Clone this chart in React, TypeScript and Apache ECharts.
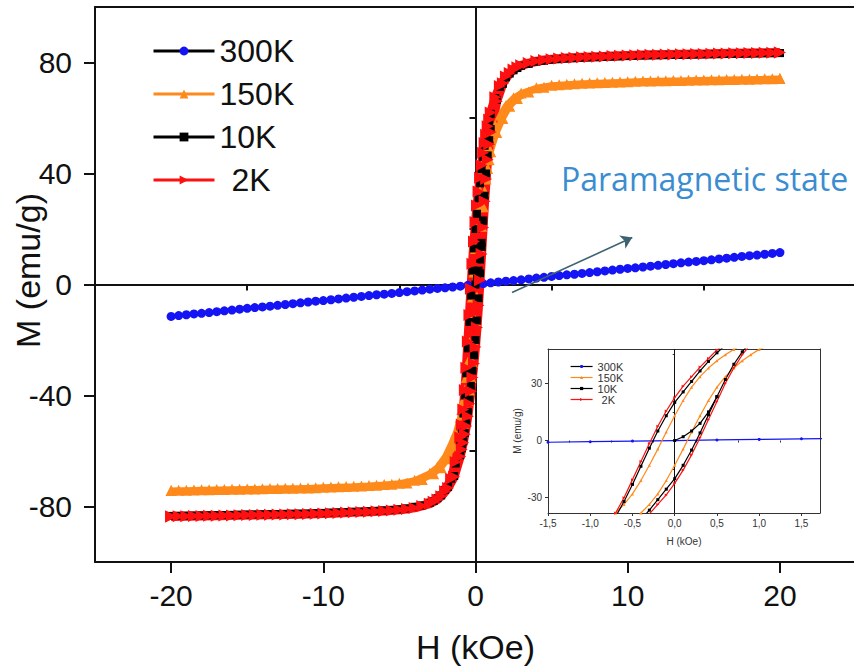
import React, { useEffect, useRef } from 'react';
import * as echarts from 'echarts';

// Field grids (kOe)
const H_DOWN = [20, 19, 18, 17, 16, 15, 14, 13, 12, 11, 10, 9, 8, 7, 6, 5, 4, 3, 2.5, 2, 1.6, 1.3,
  1, 0.9, 0.8, 0.7, 0.6, 0.5, 0.4, 0.3, 0.2, 0.1, 0, -0.1, -0.2, -0.3, -0.4, -0.5, -0.6, -0.7, -0.8, -0.9, -1,
  -1.3, -1.6, -2, -2.5, -3, -4, -5, -6, -7, -8, -9, -10, -11, -12, -13, -14, -15, -16, -17, -18, -19, -20];
const H_UP = [-20, -19.5, -18.5, -17.5, -16.5, -15.5, -14.5, -13.5, -12.5, -11.5, -10.5, -9.5, -8.5, -7.5, -6.5, -5.5,
  -4.5, -3.5, -2.75, -2.25, -1.8, -1.4,
  -1, -0.9, -0.8, -0.7, -0.6, -0.5, -0.4, -0.3, -0.2, -0.1, 0, 0.1, 0.2, 0.3, 0.4, 0.5, 0.6, 0.7, 0.8, 0.9, 1,
  1.4, 1.8, 2.25, 2.75, 3.5, 4.5,
  5.5, 6.5, 7.5, 8.5, 9.5, 10.5, 11.5, 12.5, 13.5, 14.5, 15.5, 16.5, 17.5, 18.5, 19.5, 20];

// 2K loop (emu/g)
const M2K_DOWN = [83.6, 83.5, 83.4, 83.3, 83.2, 83.1, 83.0, 82.9, 82.8, 82.7, 82.5, 82.3, 82.1, 81.9, 81.6, 81.2,
  80.5, 79.0, 77.5, 75.0, 71.5, 67.5,
  62, 59.5, 57, 54, 51, 47.5, 43, 38.5, 33.5, 28.5, 22.5, 15.5, 7.5, -1.5, -11, -20.5, -30, -38, -45, -50.5, -55,
  -64, -70, -74.5, -77.5, -79, -80.5,
  -81.2, -81.6, -81.9, -82.1, -82.3, -82.5, -82.7, -82.8, -82.9, -83.0, -83.1, -83.2, -83.3, -83.4, -83.5, -83.6];
const M2K_UP = [-83.6,
  -83.55, -83.45, -83.35, -83.25, -83.15, -83.05, -82.95, -82.85, -82.75, -82.6, -82.4, -82.2, -82.0, -81.75, -81.4,
  -80.9, -79.8, -78.3, -76.3, -73.3, -69.3,
  -62, -59.5, -57, -54, -51, -47.5, -43, -38.5, -33.5, -28.5, -22.5, -15.5, -7.5, 1.5, 11, 20.5, 30, 38, 45, 50.5, 55,
  66, 72.5, 76.2, 78.3, 79.8, 80.9,
  81.4, 81.75, 82.0, 82.2, 82.4, 82.6, 82.75, 82.85, 82.95, 83.05, 83.15, 83.25, 83.35, 83.45, 83.55,
  83.6];

// 10K loop
const M10K_DOWN = [83.4, 83.3, 83.2, 83.1, 83.0, 82.9, 82.8, 82.7, 82.6, 82.5, 82.3, 82.1, 81.9, 81.7, 81.4, 81.0,
  80.3, 78.8, 77.2, 74.7, 71.2, 67.2,
  61.5, 59, 56.5, 53.5, 50, 46, 41.5, 36.5, 31, 25.5, 20, 13, 5, -4, -13.5, -23, -32, -40, -46.5, -52, -56,
  -64.5, -70, -74, -77, -78.6, -80.1,
  -81.0, -81.4, -81.7, -81.9, -82.1, -82.3, -82.5, -82.6, -82.7, -82.8, -82.9, -83.0, -83.1, -83.2, -83.3, -83.4];
const M10K_UP = [-83.4,
  -83.35, -83.25, -83.15, -83.05, -82.95, -82.85, -82.75, -82.65, -82.55, -82.4, -82.2, -82.0, -81.8, -81.55, -81.2,
  -80.7, -79.6, -78.0, -76.0, -73.0, -69.0,
  -61.5, -59, -56.5, -53.5, -50, -46, -41.5, -36.5, -31, -25.5, -20, -13, -5, 4, 13.5, 23, 32, 40, 46.5, 52, 56,
  66.5, 72.3, 76, 78, 79.5, 80.6,
  81.2, 81.55, 81.8, 82.0, 82.2, 82.4, 82.55, 82.65, 82.75, 82.85, 82.95, 83.05, 83.15, 83.25, 83.35,
  83.4];
const H_VIRGIN = [0, 0.1, 0.2, 0.3, 0.4, 0.5];
const M10K_VIRGIN = [0, 2, 5, 9, 15, 23];

// 150K loop
const M150K_DOWN = [74.2, 74.1, 74.0, 73.9, 73.8, 73.7, 73.6, 73.5, 73.4, 73.3, 73.1, 72.9, 72.7, 72.5, 72.2, 71.8,
  70.9, 69.0, 67.3, 64.5, 61.0, 57.4,
  53.5, 51.8, 50, 47.8, 45, 41.8, 38, 33.5, 28, 21, 13, 4.5, -4.5, -13, -21, -28, -33.5, -38, -41.8, -45, -47.8,
  -53.5, -57.4, -62, -65.8, -68, -70.5,
  -71.6, -72.1, -72.45, -72.7, -72.9, -73.1, -73.3, -73.4, -73.5, -73.6, -73.7, -73.8, -73.9, -74.0, -74.1, -74.2];
const M150K_UP = [-74.2,
  -74.15, -74.05, -73.95, -73.85, -73.75, -73.65, -73.55, -73.45, -73.35, -73.2, -73.0, -72.8, -72.6, -72.35, -72.0,
  -71.5, -70.3, -68.2, -66.0, -62.8, -58.6,
  -53.5, -51.8, -50, -47.8, -45, -41.8, -38, -33.5, -28, -21, -13, -4.5, 4.5, 13, 21, 28, 33.5, 38, 41.8, 45, 47.8,
  54.8, 59.8, 64.2, 67.0, 69.4, 71.1,
  72.0, 72.35, 72.6, 72.8, 73.0, 73.2, 73.35, 73.45, 73.55, 73.65, 73.75, 73.85, 73.95, 74.05, 74.15,
  74.2];

// 300K (paramagnetic, linear)
const H_300K = [-20, -19.5, -19, -18.5, -18, -17.5, -17, -16.5, -16, -15.5, -15, -14.5, -14, -13.5, -13, -12.5,
  -12, -11.5, -11, -10.5, -10, -9.5, -9, -8.5, -8, -7.5, -7, -6.5, -6, -5.5, -5, -4.5, -4, -3.5, -3, -2.5, -2,
  -1.5, -1, -0.5, 0, 0.5, 1, 1.5, 2, 2.5, 3, 3.5, 4, 4.5, 5, 5.5, 6, 6.5, 7, 7.5, 8, 8.5, 9, 9.5, 10, 10.5, 11,
  11.5, 12, 12.5, 13, 13.5, 14, 14.5, 15, 15.5, 16, 16.5, 17, 17.5, 18, 18.5, 19, 19.5, 20];
const M_300K = [-11.5, -11.2, -10.9, -10.6, -10.4, -10.1, -9.8, -9.5, -9.2, -8.9, -8.6, -8.3, -8.1, -7.8, -7.5, -7.2,
  -6.9, -6.6, -6.3, -6.0, -5.8, -5.5, -5.2, -4.9, -4.6, -4.3, -4.0, -3.7, -3.5, -3.2, -2.9, -2.6, -2.3, -2.0, -1.7,
  -1.4, -1.2, -0.9, -0.6, -0.3, 0, 0.3, 0.6, 0.9, 1.2, 1.4, 1.7, 2.0, 2.3, 2.6, 2.9, 3.2, 3.5, 3.7, 4.0, 4.3, 4.6,
  4.9, 5.2, 5.5, 5.8, 6.0, 6.3, 6.6, 6.9, 7.2, 7.5, 7.8, 8.1, 8.3, 8.6, 8.9, 9.2, 9.5, 9.8, 10.1, 10.4, 10.6, 10.9,
  11.2, 11.5];

const SERIES_NAMES = ['300K', '150K', '10K', '2K'];
const MAIN_X_TICKS = [-20, -10, 0, 10, 20];
const MAIN_X_MINOR = [-25, -15, -5, 5, 15, 25];
const MAIN_Y_TICKS = [-80, -40, 0, 40, 80];
const MAIN_Y_MINOR = [-100, -60, -20, 20, 60, 100];
const INSET_X_TICKS = [-1.5, -1, -0.5, 0, 0.5, 1, 1.5];
const INSET_X_MINOR = [-1.25, -0.75, -0.25, 0.25, 0.75, 1.25];
const INSET_Y_TICKS = [-30, 0, 30];
const INSET_Y_MINOR = [-15, 15, 45];
const ARROW_FROM = [2.4, -2.9];
const ARROW_TO = [10.3, 16.9];

const pairs = (xs: number[], ys: number[]) => xs.map((x, i) => [x, ys[i]]);
const loop = (down: number[], up: number[]) => [...pairs(H_DOWN, down), ...pairs(H_UP, up)];

const FONT = '"Liberation Sans", Arial, sans-serif';
const INK = '#111';
const BLUE = '#1414f5';
const ORANGE = '#ff8a1c';
const RED = '#ff1010';

export default function App() {
  const ref = useRef<HTMLDivElement>(null);
  useEffect(() => {
    document.body.style.margin = '0';
    const chart = echarts.init(ref.current!, undefined, { renderer: 'svg' });
    const mainLine = { show: true, onZero: false, lineStyle: { color: INK, width: 2 } };
    const insetLine = { show: true, onZero: false, lineStyle: { color: '#333', width: 1 } };
    const lineOnly = (gridIndex: number, position: string, min: number, max: number, lineStyle: any) => ({
      gridIndex, position, type: 'value', min, max,
      axisLine: lineStyle, axisTick: { show: false }, axisLabel: { show: false }, splitLine: { show: false },
    });
    const option: any = {
      animation: false,
      backgroundColor: '#fff',
      grid: [
        { left: 95, top: 7, width: 761, height: 555, containLabel: false, outerBoundsMode: 'none' },
        { left: 548, top: 349, width: 272, height: 164, containLabel: false, outerBoundsMode: 'none' },
      ],
      xAxis: [
        {
          gridIndex: 0, type: 'value', min: -25, max: 25, interval: 5, position: 'bottom',
          axisLine: mainLine,
          axisTick: { show: true, customValues: MAIN_X_TICKS, length: 11, lineStyle: { color: INK, width: 2 } },
          axisLabel: { customValues: MAIN_X_TICKS, fontSize: 30, color: INK, fontFamily: FONT, margin: 18 },
          splitLine: { show: false },
          name: 'H (kOe)', nameLocation: 'middle', nameGap: 68, nameMoveOverlap: false,
          nameTextStyle: { fontSize: 34, color: INK, fontFamily: FONT },
        },
        {
          gridIndex: 0, type: 'value', min: -25, max: 25, interval: 5, position: 'bottom',
          axisLine: { show: false },
          axisTick: { show: true, customValues: MAIN_X_MINOR, length: 6, lineStyle: { color: INK, width: 2 } },
          axisLabel: { show: false }, splitLine: { show: false },
        },
        lineOnly(0, 'top', -25, 25, mainLine),
        {
          gridIndex: 1, type: 'value', min: -1.5, max: 1.72, position: 'bottom',
          axisLine: insetLine,
          axisTick: { show: true, customValues: INSET_X_TICKS, length: 3, lineStyle: { color: '#333', width: 1 } },
          axisLabel: {
            customValues: INSET_X_TICKS, fontSize: 10, color: '#333', fontFamily: FONT, margin: 5,
            formatter: (v: number) => v.toFixed(1).replace('.', ','),
          },
          splitLine: { show: false },
          name: 'H (kOe)', nameLocation: 'middle', nameGap: 23, nameMoveOverlap: false,
          nameTextStyle: { fontSize: 10, color: '#333', fontFamily: FONT },
        },
        {
          gridIndex: 1, type: 'value', min: -1.5, max: 1.72, position: 'bottom',
          axisLine: { show: false },
          axisTick: { show: true, customValues: INSET_X_MINOR, length: 2, lineStyle: { color: '#333', width: 1 } },
          axisLabel: { show: false }, splitLine: { show: false },
        },
        lineOnly(1, 'top', -1.5, 1.72, insetLine),
      ],
      yAxis: [
        {
          gridIndex: 0, type: 'value', min: -100, max: 100, interval: 20, position: 'left',
          axisLine: mainLine,
          axisTick: { show: true, customValues: MAIN_Y_TICKS, length: 11, lineStyle: { color: INK, width: 2 } },
          axisLabel: { customValues: MAIN_Y_TICKS, fontSize: 30, color: INK, fontFamily: FONT, margin: 23 },
          splitLine: { show: false },
          name: 'M (emu/g)', nameLocation: 'middle', nameGap: 50, nameMoveOverlap: false,
          nameTextStyle: { fontSize: 34, color: INK, fontFamily: FONT, padding: [0, 0, 0, 28] },
        },
        {
          gridIndex: 0, type: 'value', min: -100, max: 100, interval: 20, position: 'left',
          axisLine: { show: false },
          axisTick: { show: true, customValues: MAIN_Y_MINOR, length: 6, lineStyle: { color: INK, width: 2 } },
          axisLabel: { show: false }, splitLine: { show: false },
        },
        {
          gridIndex: 1, type: 'value', min: -38, max: 48, position: 'left',
          axisLine: insetLine,
          axisTick: { show: true, customValues: INSET_Y_TICKS, length: 3, lineStyle: { color: '#333', width: 1 } },
          axisLabel: { customValues: INSET_Y_TICKS, fontSize: 10, color: '#333', fontFamily: FONT, margin: 6 },
          splitLine: { show: false },
          name: 'M (emu/g)', nameLocation: 'middle', nameGap: 26, nameMoveOverlap: false,
          nameTextStyle: { fontSize: 10, color: '#333', fontFamily: FONT },
        },
        {
          gridIndex: 1, type: 'value', min: -38, max: 48, position: 'left',
          axisLine: { show: false },
          axisTick: { show: true, customValues: INSET_Y_MINOR, length: 2, lineStyle: { color: '#333', width: 1 } },
          axisLabel: { show: false }, splitLine: { show: false },
        },
        lineOnly(1, 'right', -38, 48, insetLine),
      ],
      legend: [
        {
          left: 147, top: 30, orient: 'vertical', itemWidth: 61, itemHeight: 11, itemGap: 11,
          selectedMode: false,
          data: ['300K', '150K', '10K', { name: '2K', textStyle: { padding: [0, 0, 0, 12] } }],
          textStyle: { fontSize: 32, color: INK, fontFamily: FONT },
          lineStyle: { width: 3 },
        },
        {
          left: 565, top: 356, orient: 'vertical', itemWidth: 22, itemHeight: 4, itemGap: 0,
          selectedMode: false,
          data: ['300K', '150K', '10K', { name: '2K', textStyle: { padding: [0, 0, 0, 4] } }],
          textStyle: { fontSize: 11, color: '#333', fontFamily: FONT },
          lineStyle: { width: 1.2 },
        },
      ],
      graphic: [
        {
          type: 'text', left: 561, top: 162, z: 20,
          style: { text: 'Paramagnetic state', fontSize: 32, fill: '#3a8dd0', fontFamily: '"Open Sans", sans-serif' },
        },
      ],
      series: [
        {
          name: SERIES_NAMES[0], type: 'line', xAxisIndex: 0, yAxisIndex: 0, z: 2,
          data: pairs(H_300K, M_300K), symbol: 'circle', symbolSize: 9,
          itemStyle: { color: BLUE }, lineStyle: { color: '#000', width: 1 },
          markLine: {
            z: 1, silent: true, symbol: 'none', label: { show: false },
            lineStyle: { color: INK, width: 2, type: 'solid' },
            data: [{ xAxis: 0 }, { yAxis: 0 }],
          },
        },
        {
          name: SERIES_NAMES[1], type: 'line', xAxisIndex: 0, yAxisIndex: 0, z: 2,
          data: loop(M150K_DOWN, M150K_UP), symbol: 'triangle', symbolSize: 11,
          itemStyle: { color: ORANGE }, lineStyle: { color: ORANGE, width: 6 },
        },
        {
          name: SERIES_NAMES[2], type: 'line', xAxisIndex: 0, yAxisIndex: 0, z: 2,
          data: loop(M10K_DOWN, M10K_UP), symbol: 'rect', symbolSize: 8,
          itemStyle: { color: '#000' }, lineStyle: { color: '#000', width: 4 },
        },
        {
          name: SERIES_NAMES[2], type: 'line', xAxisIndex: 0, yAxisIndex: 0, z: 2,
          data: pairs(H_VIRGIN, M10K_VIRGIN), symbol: 'rect', symbolSize: 8,
          itemStyle: { color: '#000' }, lineStyle: { color: '#000', width: 4 },
        },
        {
          name: SERIES_NAMES[3], type: 'line', xAxisIndex: 0, yAxisIndex: 0, z: 2,
          data: loop(M2K_DOWN, M2K_UP), symbol: 'triangle', symbolRotate: -90, symbolSize: 12,
          itemStyle: { color: RED }, lineStyle: { color: RED, width: 9 },
          markLine: {
            z: 6, silent: true, symbol: ['none', 'arrow'], symbolSize: 11, label: { show: false },
            lineStyle: { color: '#3d6371', width: 1.6, type: 'solid' },
            data: [[{ coord: ARROW_FROM }, { coord: ARROW_TO }]],
          },
        },
        // inset
        {
          name: SERIES_NAMES[0], type: 'line', xAxisIndex: 3, yAxisIndex: 2, z: 10,
          data: pairs(H_300K, M_300K), symbol: 'circle', symbolSize: 3,
          itemStyle: { color: BLUE }, lineStyle: { color: BLUE, width: 1.2 },
          markLine: {
            z: 9, silent: true, symbol: 'none', label: { show: false },
            lineStyle: { color: INK, width: 1, type: 'solid' },
            data: [{ xAxis: 0 }],
          },
        },
        {
          name: SERIES_NAMES[1], type: 'line', xAxisIndex: 3, yAxisIndex: 2, z: 10,
          data: loop(M150K_DOWN, M150K_UP), symbol: 'triangle', symbolSize: 3,
          itemStyle: { color: ORANGE }, lineStyle: { color: ORANGE, width: 1.2 },
        },
        {
          name: SERIES_NAMES[2], type: 'line', xAxisIndex: 3, yAxisIndex: 2, z: 10,
          data: loop(M10K_DOWN, M10K_UP), symbol: 'rect', symbolSize: 3,
          itemStyle: { color: '#000' }, lineStyle: { color: '#000', width: 1.2 },
        },
        {
          name: SERIES_NAMES[2], type: 'line', xAxisIndex: 3, yAxisIndex: 2, z: 10,
          data: pairs(H_VIRGIN, M10K_VIRGIN), symbol: 'rect', symbolSize: 3,
          itemStyle: { color: '#000' }, lineStyle: { color: '#000', width: 1.2 },
        },
        {
          name: SERIES_NAMES[3], type: 'line', xAxisIndex: 3, yAxisIndex: 2, z: 10,
          data: loop(M2K_DOWN, M2K_UP), symbol: 'triangle', symbolRotate: -90, symbolSize: 3,
          itemStyle: { color: RED }, lineStyle: { color: RED, width: 1.2 },
        },
      ],
    };
    chart.setOption(option);
    return () => chart.dispose();
  }, []);
  return <div ref={ref} style={{ width: 854, height: 670 }} />;
}
